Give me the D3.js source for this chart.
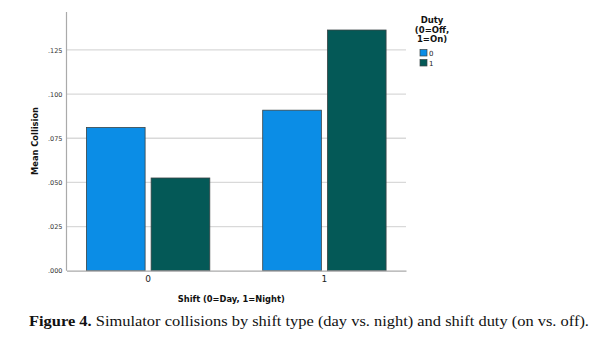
<!DOCTYPE html>
<html>
<head>
<meta charset="utf-8">
<script src="https://cdn.jsdelivr.net/npm/d3@7"></script>
<style>
  body { margin: 0; background: #fff; }
  svg { display: block; }
</style>
</head>
<body>
<script>
const width = 601;
const height = 350;

// data
const shifts = ["0", "1"];
const duties = ["0", "1"];
const offDuty = [0.0811, 0.0909];
const onDuty = [0.0525, 0.1363];
const yTicks = [0, 0.025, 0.05, 0.075, 0.1, 0.125];

const colors = ["#0b8de6", "#045957"];

const svg = d3.select("body").append("svg")
    .attr("width", width)
    .attr("height", height);

const plotLeft = 66.5, plotRight = 406, plotTop = 12, plotBottom = 270.7;

const x = d3.scaleBand()
    .domain(shifts)
    .range([plotLeft, plotRight])
    .paddingInner(0.3)
    .paddingOuter(0.113);

const xInner = d3.scaleBand()
    .domain(duties)
    .range([0, x.bandwidth()])
    .paddingInner(0.093);

const y = d3.scaleLinear()
    .domain([0, 0.1465])
    .range([plotBottom, plotTop]);

// gridlines
svg.append("g")
    .selectAll("line")
    .data(yTicks.slice(1))
    .enter()
    .append("line")
    .attr("x1", plotLeft)
    .attr("x2", plotRight)
    .attr("y1", d => y(d))
    .attr("y2", d => y(d))
    .attr("stroke", "#d9d9d9")
    .attr("stroke-width", 1.3);

// bars
const rows = shifts.map((s, i) => [
    { shift: s, duty: duties[0], value: offDuty[i] },
    { shift: s, duty: duties[1], value: onDuty[i] }
]).flat();

svg.append("g")
    .selectAll("rect")
    .data(rows)
    .enter()
    .append("rect")
    .attr("x", d => x(d.shift) + xInner(d.duty))
    .attr("width", xInner.bandwidth())
    .attr("y", d => y(d.value))
    .attr("height", d => y(0) - y(d.value))
    .attr("fill", d => colors[duties.indexOf(d.duty)])
    .attr("stroke", "#3a4446")
    .attr("stroke-width", 0.8);

// axes
const yAxis = svg.append("g")
    .attr("transform", `translate(${plotLeft},0)`)
    .call(d3.axisLeft(y).tickValues(yTicks).tickSize(0).tickPadding(4)
        .tickFormat(d => d3.format(".3f")(d).replace(/^0/, "")));
yAxis.select(".domain").remove();
yAxis.selectAll("text")
    .attr("font-family", "DejaVu Sans, sans-serif")
    .attr("font-size", 6.5)
    .attr("fill", "#333");

svg.append("line")
    .attr("x1", plotLeft).attr("x2", plotLeft)
    .attr("y1", plotTop).attr("y2", plotBottom)
    .attr("stroke", "#aaaaaa")
    .attr("stroke-width", 1.2);

const xAxis = svg.append("g")
    .attr("transform", `translate(0,${plotBottom})`)
    .call(d3.axisBottom(x).tickSize(0).tickPadding(5));
xAxis.select(".domain")
    .attr("stroke", "#aaaaaa")
    .attr("stroke-width", 1.2);
xAxis.selectAll("text")
    .attr("font-family", "DejaVu Sans, sans-serif")
    .attr("font-size", 9)
    .attr("fill", "#222");

// axis titles
svg.append("text")
    .attr("x", x("0") + (x("1") + x.bandwidth() - x("0")) / 2 - 5)
    .attr("y", 302)
    .attr("text-anchor", "middle")
    .attr("font-family", "DejaVu Sans, sans-serif")
    .attr("font-size", 8.3)
    .attr("font-weight", "bold")
    .attr("fill", "#111")
    .text("Shift (0=Day, 1=Night)");

svg.append("text")
    .attr("transform", `translate(38,${141}) rotate(-90)`)
    .attr("text-anchor", "middle")
    .attr("font-family", "DejaVu Sans, sans-serif")
    .attr("font-size", 8.3)
    .attr("font-weight", "bold")
    .attr("fill", "#111")
    .text("Mean Collision");

// legend
const legend = svg.append("g");
const legendTitle = ["Duty", "(0=Off,", "1=On)"];
legend.selectAll(".lt")
    .data(legendTitle)
    .enter()
    .append("text")
    .attr("class", "lt")
    .attr("x", 432)
    .attr("y", (d, i) => 23 + i * 9.5)
    .attr("text-anchor", "middle")
    .attr("font-family", "DejaVu Sans, sans-serif")
    .attr("font-size", 8.5)
    .attr("font-weight", "bold")
    .attr("fill", "#111")
    .text(d => d);

const items = legend.selectAll(".li")
    .data(duties)
    .enter()
    .append("g")
    .attr("class", "li")
    .attr("transform", (d, i) => `translate(420,${49.5 + i * 10})`);
items.append("rect")
    .attr("width", 7)
    .attr("height", 6.5)
    .attr("fill", (d, i) => colors[i])
    .attr("stroke", "#3a4446")
    .attr("stroke-width", 0.7);
items.append("text")
    .attr("x", 9)
    .attr("y", 6)
    .attr("font-family", "DejaVu Sans, sans-serif")
    .attr("font-size", 7)
    .attr("fill", "#222")
    .text(d => d);

// caption
const cap = svg.append("text")
    .attr("x", 29)
    .attr("y", 326)
    .attr("font-family", "'Palatino Linotype', 'Book Antiqua', 'Liberation Serif', serif")
    .attr("font-size", 14.5)
    .attr("fill", "#111");
cap.append("tspan").attr("font-weight", "bold").text("Figure 4.");
cap.append("tspan").text(" Simulator collisions by shift type (day vs. night) and shift duty (on vs. off).");
cap.attr("textLength", 560).attr("lengthAdjust", "spacingAndGlyphs");
</script>
</body>
</html>
